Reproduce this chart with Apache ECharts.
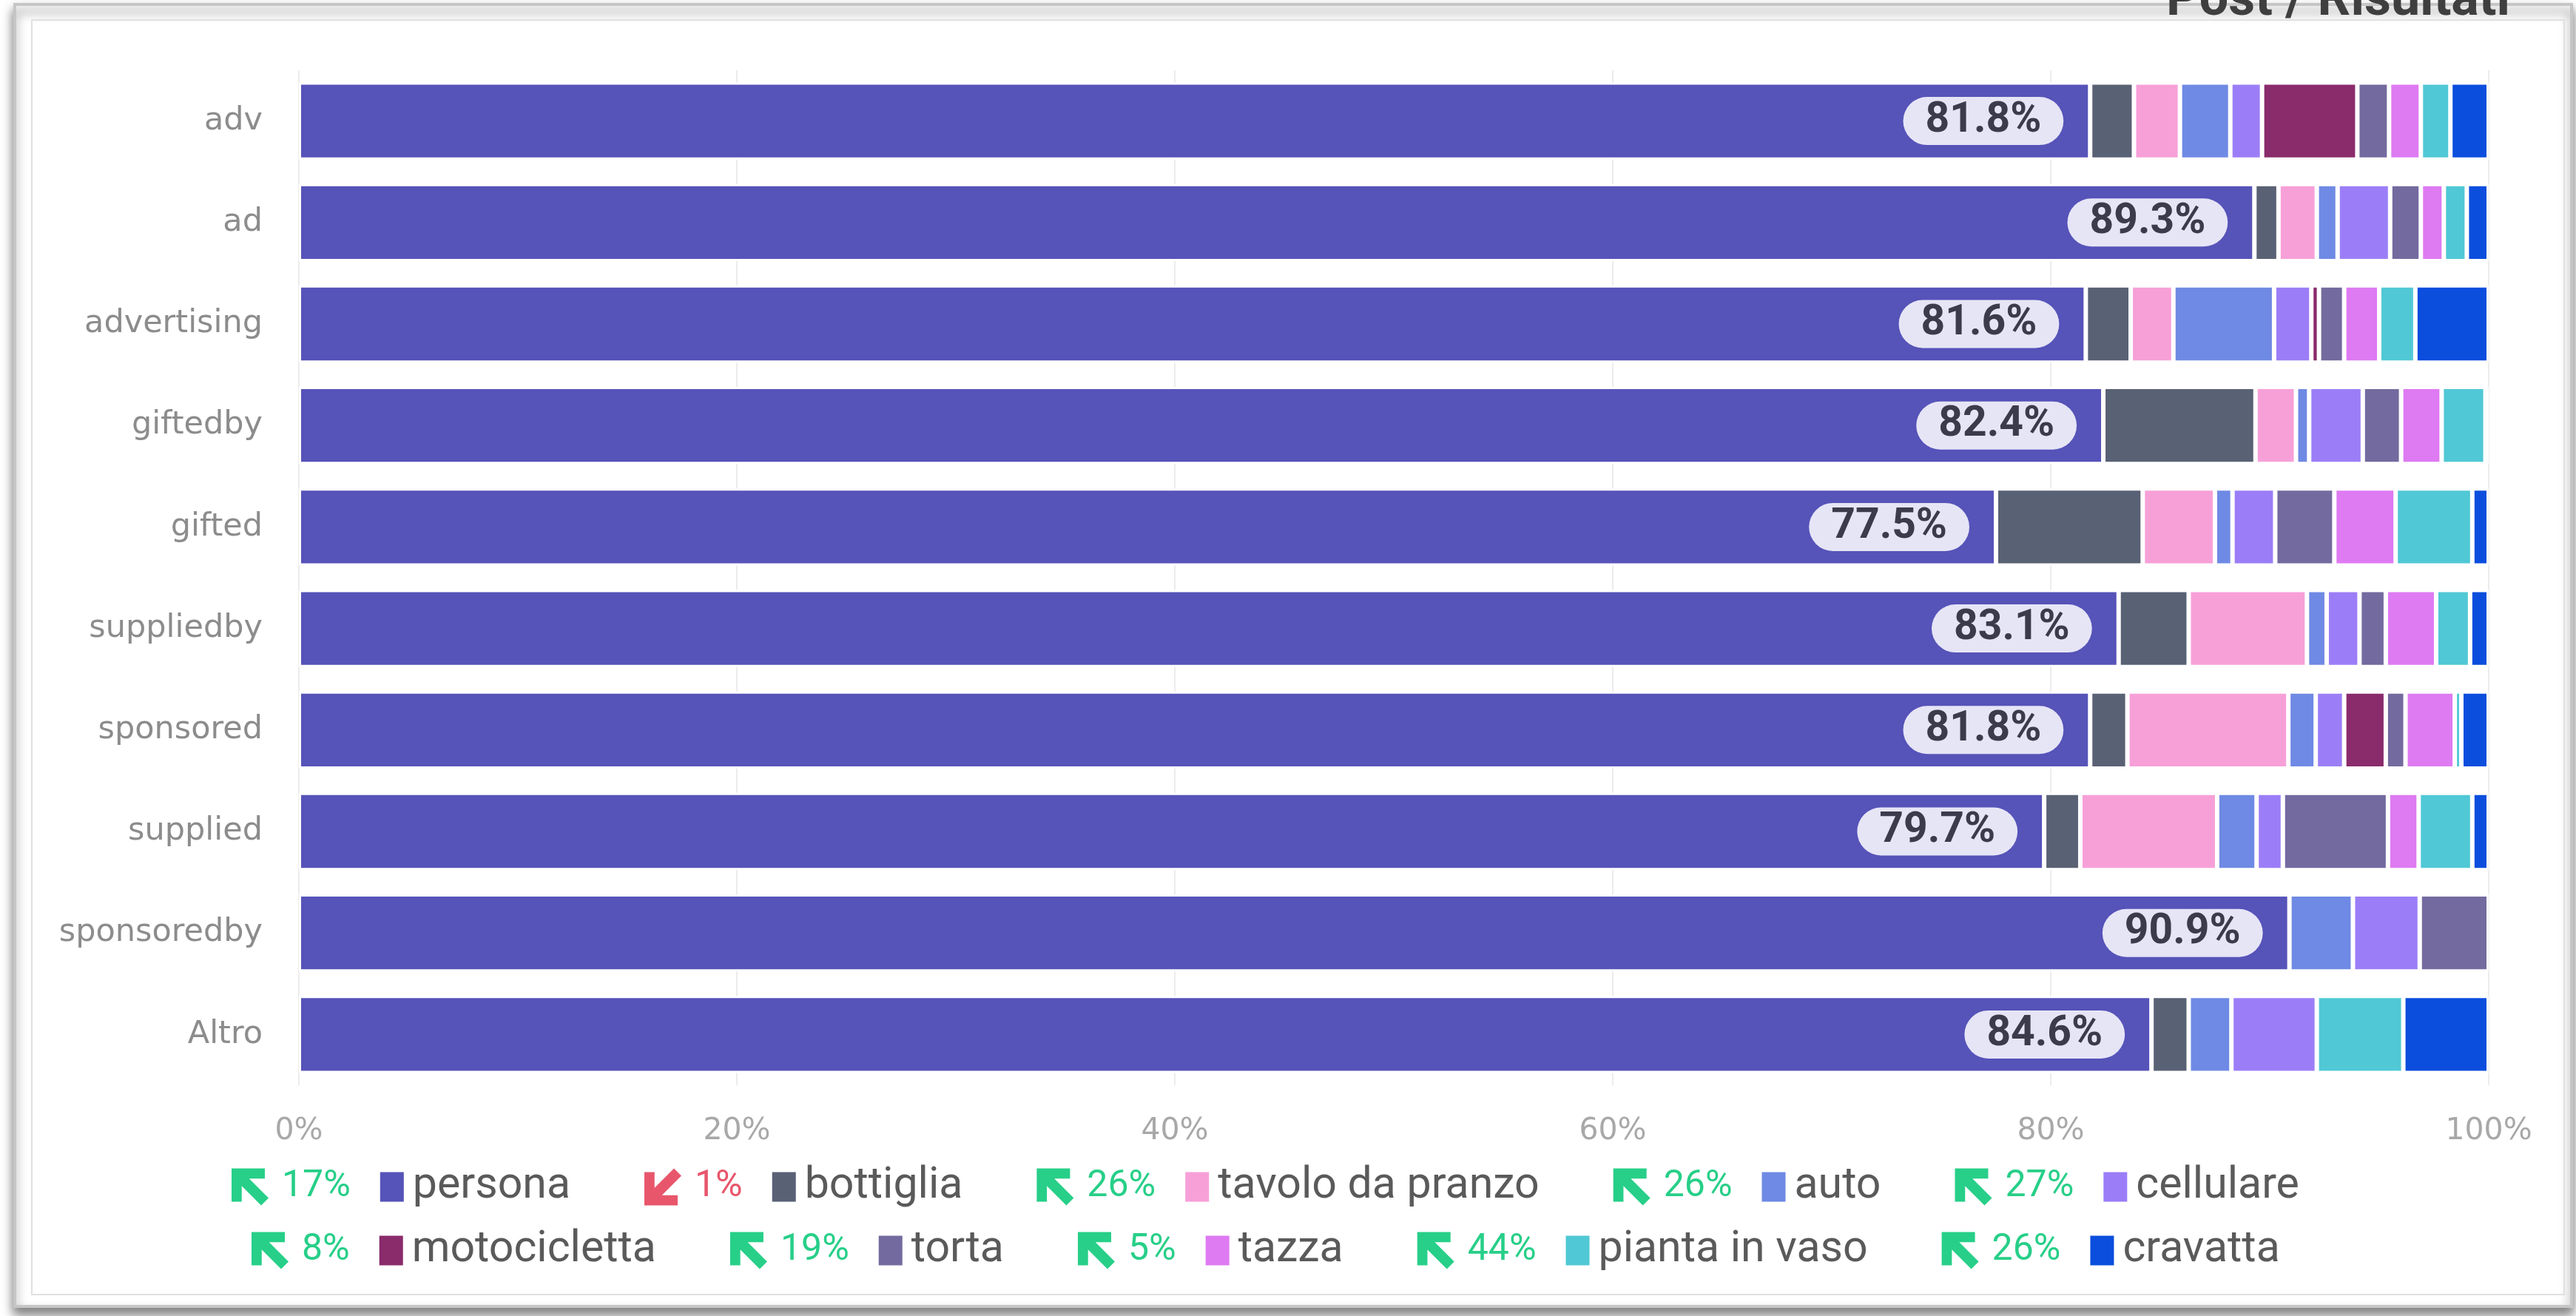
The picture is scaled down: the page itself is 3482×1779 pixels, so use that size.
<!DOCTYPE html>
<html>
<head>
<meta charset="utf-8">
<script src="https://cdn.jsdelivr.net/npm/echarts@6/dist/echarts.min.js"></script>
<style>
  html, body { margin: 0; padding: 0; background: #ffffff; }
  #chart { width: 3482px; height: 1779px; }
</style>
</head>
<body>
<div id="chart"></div>
<script>
// Hashtags (rows) and detected objects (stacked segments), shares in %
const categories = ['adv', 'ad', 'advertising', 'giftedby', 'gifted', 'suppliedby', 'sponsored', 'supplied', 'sponsoredby', 'Altro'];
const objects = ['persona', 'bottiglia', 'tavolo da pranzo', 'auto', 'cellulare', 'motocicletta', 'torta', 'tazza', 'pianta in vaso', 'cravatta'];
const objectColors = ['#5653b9', '#596174', '#f7a0d8', '#6f8ae4', '#9b7ef7', '#8a2b6b', '#736a9f', '#de7af2', '#50c8d5', '#0b4edd'];
// change vs previous period, % (negative = down)
const trend = [17, -1, 26, 26, 27, 8, 19, 5, 44, 26];

const persona      = [81.8, 89.3, 81.6, 82.4, 77.5, 83.1, 81.8, 79.7, 90.9, 84.6];
const bottiglia    = [2.0, 1.1, 2.05, 6.95, 6.7, 3.2, 1.7, 1.65, 0, 1.7];
const tavolo       = [2.1, 1.75, 1.95, 1.85, 3.3, 5.4, 7.35, 6.25, 0, 0];
const auto         = [2.3, 0.95, 4.6, 0.6, 0.8, 0.9, 1.25, 1.8, 2.9, 1.95];
const cellulare    = [1.45, 2.4, 1.7, 2.45, 1.95, 1.5, 1.3, 1.2, 3.05, 3.9];
const motocicletta = [4.35, 0, 0.35, 0, 0, 0, 1.9, 0, 0, 0];
const torta        = [1.45, 1.4, 1.15, 1.75, 2.7, 1.2, 0.9, 4.8, 3.15, 0];
const tazza        = [1.45, 1.05, 1.6, 1.85, 2.8, 2.3, 2.25, 1.4, 0, 0];
const pianta       = [1.35, 1.05, 1.65, 2.0, 3.5, 1.55, 0.3, 2.45, 0, 3.95];
const cravatta     = [1.75, 1.0, 3.35, 0.15, 0.75, 0.85, 1.25, 0.75, 0, 3.9];

const shares = [persona, bottiglia, tavolo, auto, cellulare, motocicletta, torta, tazza, pianta, cravatta];

const GREEN = '#27cf88';
const RED = '#e8566c';
const upArrow = 'path://M2,2 L20,2 L20,7.5 L11.5,7.5 L22,18 L18,22 L7.5,11.5 L7.5,20 L2,20 Z';
const downArrow = 'path://M2,22 L20,22 L20,16.5 L11.5,16.5 L22,6 L18,2 L7.5,12.5 L7.5,4 L2,4 Z';

const chart = echarts.init(document.getElementById('chart'), null, { renderer: 'canvas' });

const rich = {
  pctUp:   { color: GREEN, fontSize: 50, fontFamily: 'Roboto', lineHeight: 60, padding: [0, 40, 0, 13] },
  pctDown: { color: RED,   fontSize: 50, fontFamily: 'Roboto', lineHeight: 60, padding: [0, 40, 0, 13] },
  nm:      { color: '#5a5a5a', fontSize: 59, fontFamily: 'Roboto', lineHeight: 60, padding: [0, 0, 0, 12] }
};
objectColors.forEach((c, i) => {
  rich['sq' + i] = { width: 32, height: 40, backgroundColor: c };
});

function legendRow(names, left, top) {
  return {
    data: names.map(n => {
      const t = trend[objects.indexOf(n)];
      return { name: n, icon: t < 0 ? downArrow : upArrow, itemStyle: { color: t < 0 ? RED : GREEN, borderWidth: 0 } };
    }),
    left: left,
    top: top,
    padding: 0,
    itemGap: 100,
    itemWidth: 50,
    itemHeight: 50,
    selectedMode: false,
    itemStyle: { borderWidth: 0 },
    formatter: name => {
      const i = objects.indexOf(name);
      const t = trend[i];
      return '{' + (t < 0 ? 'pctDown' : 'pctUp') + '|' + Math.abs(t) + '%}{sq' + i + '|}{nm|' + name + '}';
    },
    textStyle: { rich: rich }
  };
}

const option = {
  backgroundColor: '#ffffff',
  animation: false,
  title: {
    text: 'Post / Risultati',
    right: 84,
    top: -38,
    textStyle: { fontSize: 70, color: '#3f3f3f', fontWeight: 'bold', fontFamily: 'Roboto' }
  },
  graphic: [
    {
      type: 'rect', z: -10, silent: true,
      shape: { x: 20, y: 6, width: 3456, height: 1760 },
      style: { fill: '#ffffff', stroke: '#c6c6c6', lineWidth: 4, shadowBlur: 14, shadowOffsetY: 9, shadowColor: 'rgba(0,0,0,0.5)' }
    },
    {
      type: 'rect', z: -9, silent: true,
      shape: { x: 43, y: 27, width: 3423, height: 1723 },
      style: { fill: 'none', stroke: '#e0e0e0', lineWidth: 2 }
    }
  ],
  legend: [
    legendRow(objects.slice(0, 5), 313, 1575),
    legendRow(objects.slice(5), 340, 1661)
  ],
  grid: { left: 404, right: 118, top: 95, bottom: 312, containLabel: false },
  xAxis: {
    type: 'value',
    min: 0,
    max: 100,
    interval: 20,
    axisLine: { show: false },
    axisTick: { show: false },
    splitLine: { show: true, lineStyle: { color: '#ececec', width: 2 } },
    axisLabel: {
      formatter: v => v + '%',
      color: '#a8a8a8',
      fontSize: 41,
      fontFamily: 'DejaVu Sans',
      margin: 42
    }
  },
  yAxis: {
    type: 'category',
    data: categories,
    inverse: true,
    axisLine: { show: false },
    axisTick: { show: false },
    axisLabel: {
      color: '#8c8c8c',
      fontSize: 43,
      fontFamily: 'DejaVu Sans',
      margin: 49
    }
  },
  series: objects.map((name, i) => ({
    type: 'bar',
    name: name,
    stack: 'quota',
    barCategoryGap: '24%',
    data: shares[i].map(v => (v > 0 ? v : null)),
    itemStyle: { color: objectColors[i], borderColor: '#ffffff', borderWidth: 3 },
    emphasis: { disabled: true },
    label: i === 0 ? {
      show: true,
      position: 'insideRight',
      distance: 36,
      formatter: p => p.value.toFixed(1) + '%',
      color: '#3b3b4c',
      fontSize: 57,
      fontWeight: 'bold',
      fontFamily: 'Roboto',
      lineHeight: 56,
      backgroundColor: '#e6e5f6',
      borderRadius: 34,
      padding: [5, 30, 4, 30]
    } : { show: false }
  }))
};

chart.setOption(option);
</script>
</body>
</html>
